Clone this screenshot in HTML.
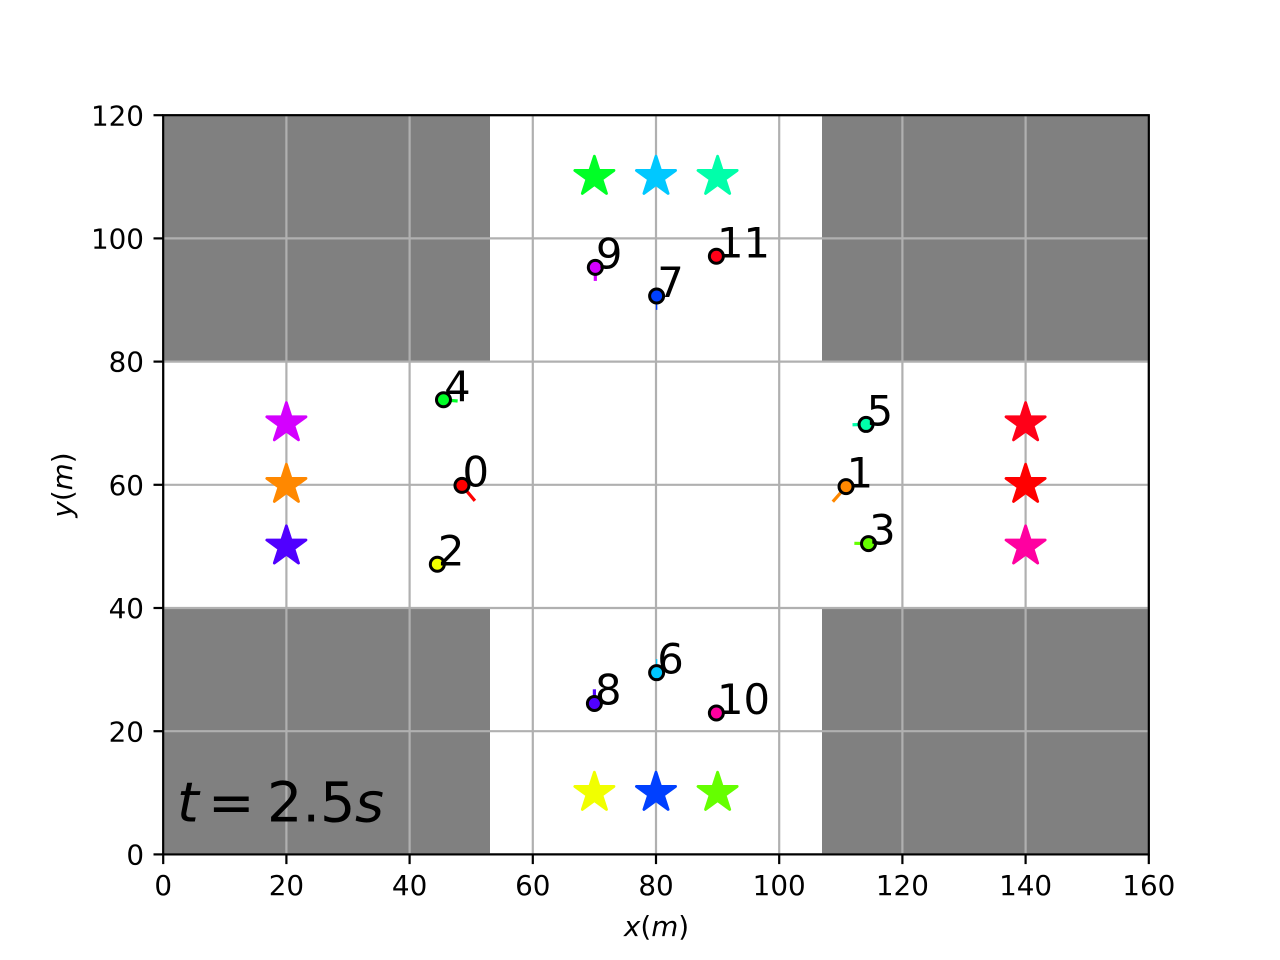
<!DOCTYPE html>
<html lang="en">
<head>
<meta charset="utf-8">
<title>Agent positions at t = 2.5 s</title>
<style>
html,body{margin:0;padding:0;background:#fff;}
svg{display:block;font-family:"DejaVu Sans","Liberation Sans",sans-serif;}
</style>
</head>
<body>
<svg id="chart" xmlns="http://www.w3.org/2000/svg" width="1280" height="960" viewBox="0 0 1280 960"></svg>
<script>
const xTickLabels = [0, 20, 40, 60, 80, 100, 120, 140, 160];
const yTickLabels = [0, 20, 40, 60, 80, 100, 120];
const agentIds = [0, 1, 2, 3, 4, 5, 6, 7, 8, 9, 10, 11];
const agentX = [48.5, 110.85, 44.5, 114.5, 45.5, 114.1, 80.1, 80.1, 70, 70.15, 89.8, 89.8];
const agentY = [59.9, 59.7, 47.1, 50.45, 73.8, 69.8, 29.5, 90.65, 24.5, 95.3, 22.95, 97.1];
const tailX = [50.6, 108.7, 46, 112.2, 47.8, 111.9, 80.1, 80.1, 70, 70.15, 90.5, 90.5];
const tailY = [57.4, 57.25, 47.1, 50.5, 73.6, 69.75, 31.7, 88.4, 26.8, 93.1, 22.95, 97.1];
const goalX = [140, 20, 70, 90, 70, 90, 80, 80, 20, 20, 140, 140];
const goalY = [60, 60, 10, 10, 110, 110, 110, 10, 50, 70, 50, 70];
const obstacleX0 = [0, 107, 0, 107];
const obstacleX1 = [53, 160, 53, 160];
const obstacleY0 = [0, 0, 80, 80];
const obstacleY1 = [40, 40, 120, 120];

const agentColors = ['#ff0000','#ff8800','#f1ff00','#65ff00','#00ff26','#00ffaa','#00c8ff','#0040ff','#5000ff','#d400ff','#ff00a0','#ff0018'];
const thinTails = [6, 7];

const plot = {left: 163.2, bottom: 854.4, unit: 6.16};
const sx = v => plot.left + v * plot.unit;
const sy = v => plot.bottom - v * plot.unit;
const svg = document.getElementById('chart');
const NS = 'http://www.w3.org/2000/svg';
function make(tag, attrs, text) {
  const n = document.createElementNS(NS, tag);
  for (const k in attrs) n.setAttribute(k, attrs[k]);
  if (text !== undefined) n.textContent = text;
  svg.appendChild(n);
  return n;
}
function starPoints(cx, cy, r) {
  const pts = [];
  for (let i = 0; i < 10; i++) {
    const rad = i % 2 ? r * 0.381966 : r;
    const a = -Math.PI / 2 + i * Math.PI / 5;
    pts.push((cx + rad * Math.cos(a)).toFixed(2) + ',' + (cy + rad * Math.sin(a)).toFixed(2));
  }
  return pts.join(' ');
}

// obstacles
obstacleX0.forEach((x0, i) => {
  const left = Math.round(sx(x0));
  const top = Math.round(sy(obstacleY1[i]));
  const r = make('rect', {x: left, y: top, width: Math.round(sx(obstacleX1[i])) - left, height: Math.round(sy(obstacleY0[i])) - top, fill: '#808080'});
  
  
});

// grid
xTickLabels.forEach(v => {
  const g = make('line', {x1: sx(v), x2: sx(v), y1: sy(0), y2: sy(120), stroke: '#b0b0b0', 'stroke-width': 2.2});
  
  
});
yTickLabels.forEach(v => {
  const g = make('line', {x1: sx(0), x2: sx(160), y1: sy(v), y2: sy(v), stroke: '#b0b0b0', 'stroke-width': 2.2});
  
  
});

// goal stars
goalX.forEach((x, i) => {
  const s = make('polygon', {points: starPoints(sx(x), sy(goalY[i]), 20.6), fill: agentColors[i], stroke: agentColors[i], 'stroke-width': 2.8, 'stroke-linejoin': 'round'});
  
  
});

// tails
agentIds.forEach((id, i) => {
  const t = make('line', {x1: sx(agentX[i]), y1: sy(agentY[i]), x2: sx(tailX[i]), y2: sy(tailY[i]), stroke: agentColors[i], 'stroke-width': thinTails.includes(id) ? 1.4 : 3.2});
  
  
});

// agents
agentIds.forEach((id, i) => {
  const c = make('circle', {cx: sx(agentX[i]), cy: sy(agentY[i]), r: 7, fill: agentColors[i], stroke: '#000', 'stroke-width': 3});
  
  
});

// agent labels
agentIds.forEach((id, i) => {
  const l = make('text', {x: sx(agentX[i]) + 0.6, y: sy(agentY[i]) + 1, 'font-size': 41.7, fill: '#000'}, String(id));
  
  
});

// spines
const frame = make('rect', {x: sx(0), y: sy(120), width: sx(160) - sx(0), height: sy(0) - sy(120), fill: 'none', stroke: '#000', 'stroke-width': 2.2});



// ticks
xTickLabels.forEach(v => {
  const t = make('line', {x1: sx(v), x2: sx(v), y1: sy(0), y2: sy(0) + 9.7, stroke: '#000', 'stroke-width': 2.2});
  
  
  const l = make('text', {x: sx(v), y: 895, 'font-size': 27.8, 'text-anchor': 'middle', fill: '#000'}, String(v));
  
  
});
yTickLabels.forEach(v => {
  const t = make('line', {x1: sx(0) - 9.7, x2: sx(0), y1: sy(v), y2: sy(v), stroke: '#000', 'stroke-width': 2.2});
  
  
  const l = make('text', {x: 144, y: sy(v) + 10.1, 'font-size': 27.8, 'text-anchor': 'end', fill: '#000'}, String(v));
  
  
});
</script>
<script>
(function () {
  const root = document.getElementById('chart');
  const markup =
    '<text x="656.5" y="936" font-size="27.8" text-anchor="middle"><tspan font-style="italic">x</tspan>(<tspan font-style="italic">m</tspan>)</text>' +
    '<text transform="translate(72 485) rotate(-90)" font-size="27.8" text-anchor="middle"><tspan font-style="italic">y</tspan>(<tspan font-style="italic">m</tspan>)</text>' +
    '<text y="821.7" font-size="55.6"><tspan x="177" font-style="italic">t</tspan><tspan x="208">=</tspan><tspan x="267">2.5</tspan><tspan x="355" font-style="italic">s</tspan></text>';
  root.insertAdjacentHTML('beforeend', markup);
})();
</script>
</body>
</html>
